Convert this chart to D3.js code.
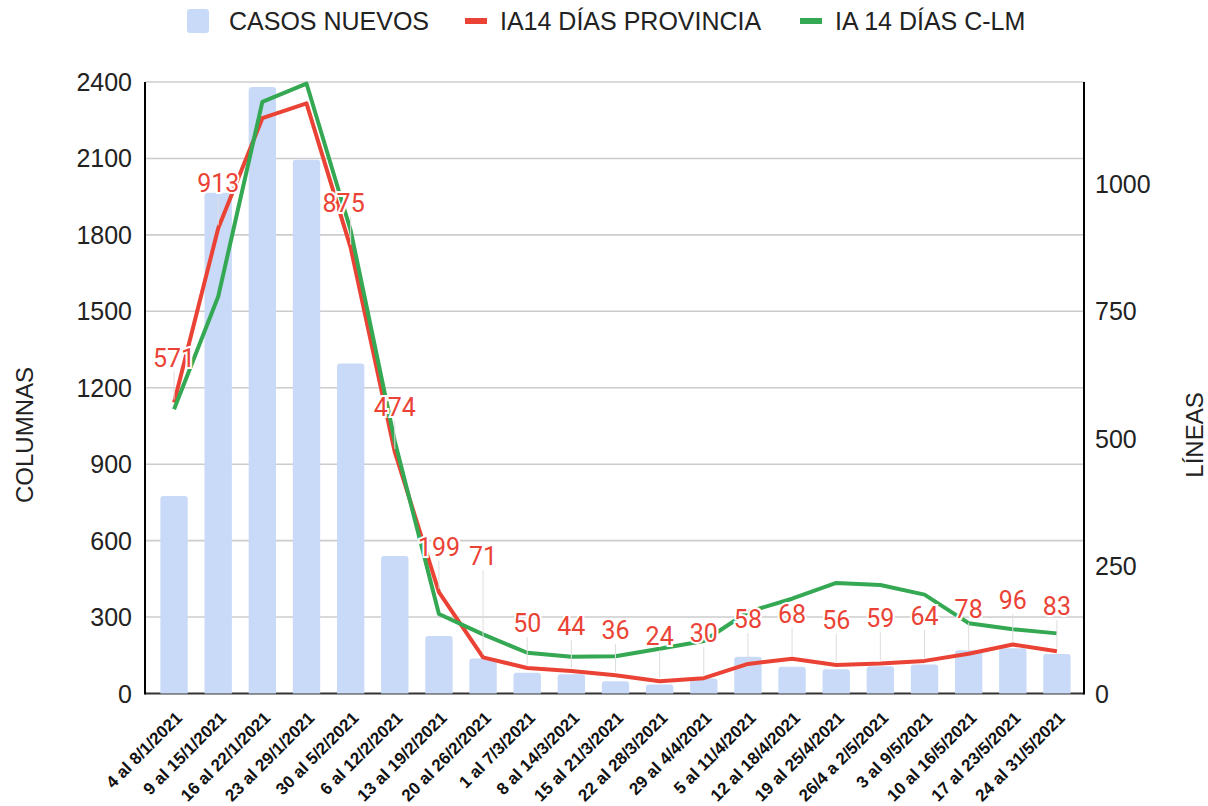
<!DOCTYPE html>
<html>
<head>
<meta charset="utf-8">
<script src="https://cdn.jsdelivr.net/npm/d3@7"></script>
<style>
  body { margin: 0; background: #fff; }
  svg { display: block; }
</style>
</head>
<body>
<div id="main"></div>
<script>
const W = 1208;
const H = 806;

// weeks
const semanas = [
    "4 al 8/1/2021", "9 al 15/1/2021", "16 al 22/1/2021", "23 al 29/1/2021",
    "30 al 5/2/2021", "6 al 12/2/2021", "13 al 19/2/2021", "20 al 26/2/2021",
    "1 al 7/3/2021", "8 al 14/3/2021", "15 al 21/3/2021", "22 al 28/3/2021",
    "29 al 4/4/2021", "5 al 11/4/2021", "12 al 18/4/2021", "19 al 25/4/2021",
    "26/4 a 2/5/2021", "3 al 9/5/2021", "10 al 16/5/2021", "17 al 23/5/2021",
    "24 al 31/5/2021"
];

// columns (left axis)
const casosNuevos = [775, 1965, 2380, 2095, 1295, 540, 226, 137, 81, 76, 48,
                     35, 59, 144, 105, 95, 107, 114, 170, 178, 155];

// lines (right axis)
const iaProvincia = [571, 913, 1129, 1158, 875, 474, 199, 71, 50, 44, 36,
                     24, 30, 58, 68, 56, 59, 64, 78, 96, 83];
const iaClm = [558, 779, 1161, 1197, 909, 495, 156, 116, 80, 72, 73,
               88, 103, 160, 186, 217, 213, 194, 138, 126, 118];

const leftTicks = [0, 300, 600, 900, 1200, 1500, 1800, 2100, 2400];
const rightTicks = [0, 250, 500, 750, 1000];

const legendItems = ["CASOS NUEVOS", "IA14 DÍAS PROVINCIA", "IA 14 DÍAS C-LM"];

var ctx = {
    left: 145, right: 1084, top: 82, bottom: 693.5,
    blue: "#c9daf8",
    red: "#ea4335",
    green: "#34a853",
    axisFont: "'Liberation Sans', Arial, sans-serif",
    labelFont: "Roboto, 'Noto Sans', sans-serif",
    labelLift: 45,
    labelLiftExtra: {7: 101},   // label pushed above the green line
    labelShift: {4: -7},        // label nudged off the lines
};

var x = d3.scaleBand()
    .domain(semanas)
    .range([152, 1079])
    .paddingInner(0.38)
    .paddingOuter(0.19);

var yLeft = d3.scaleLinear().domain([0, 2400]).range([ctx.bottom, ctx.top]);
var yRight = d3.scaleLinear().domain([0, 1200]).range([ctx.bottom, ctx.top]);

var cx = function(d){ return x(d) + x.bandwidth() / 2; };

var svg = d3.select("#main").append("svg")
    .attr("width", W)
    .attr("height", H);

// gridlines
svg.append("g")
    .selectAll("line")
    .data(leftTicks.slice(1))
    .enter()
    .append("line")
    .attr("x1", ctx.left).attr("x2", ctx.right)
    .attr("y1", d => yLeft(d)).attr("y2", d => yLeft(d))
    .style("stroke", "#cccccc")
    .style("stroke-width", 1.6);

// baseline
svg.append("line")
    .attr("x1", ctx.left).attr("x2", ctx.right)
    .attr("y1", ctx.bottom).attr("y2", ctx.bottom)
    .style("stroke", "#333")
    .style("stroke-width", 2);

// bars with rounded tops
var barPath = function(d, i){
    var x0 = x(semanas[i]), w = x.bandwidth();
    var y0 = yLeft(d), r = Math.min(3, (ctx.bottom - y0) / 2);
    return "M" + x0 + "," + ctx.bottom +
           "V" + (y0 + r) +
           "Q" + x0 + "," + y0 + " " + (x0 + r) + "," + y0 +
           "H" + (x0 + w - r) +
           "Q" + (x0 + w) + "," + y0 + " " + (x0 + w) + "," + (y0 + r) +
           "V" + ctx.bottom + "Z";
};

svg.append("g")
    .selectAll("path")
    .data(casosNuevos)
    .enter()
    .append("path")
    .attr("d", barPath)
    .style("fill", ctx.blue);

// left / right axis lines
svg.append("line")
    .attr("x1", ctx.left).attr("x2", ctx.left)
    .attr("y1", ctx.top).attr("y2", ctx.bottom + 1)
    .style("stroke", "#000").style("stroke-width", 2);
svg.append("line")
    .attr("x1", ctx.right).attr("x2", ctx.right)
    .attr("y1", ctx.top).attr("y2", ctx.bottom + 1)
    .style("stroke", "#000").style("stroke-width", 2);

// tick labels
svg.append("g")
    .selectAll("text")
    .data(leftTicks)
    .enter()
    .append("text")
    .attr("x", 132)
    .attr("y", d => yLeft(d))
    .attr("dy", "0.36em")
    .attr("text-anchor", "end")
    .style("font-family", ctx.axisFont)
    .style("font-size", "25px")
    .style("fill", "#222")
    .text(d => d);

svg.append("g")
    .selectAll("text")
    .data(rightTicks)
    .enter()
    .append("text")
    .attr("x", 1095)
    .attr("y", d => yRight(d))
    .attr("dy", "0.36em")
    .attr("text-anchor", "start")
    .style("font-family", ctx.axisFont)
    .style("font-size", "25px")
    .style("fill", "#222")
    .text(d => d);

// axis titles
svg.append("text")
    .attr("transform", "translate(33,435) rotate(-90)")
    .attr("text-anchor", "middle")
    .style("font-family", ctx.axisFont)
    .style("font-size", "24px")
    .style("fill", "#222")
    .text("COLUMNAS");

svg.append("text")
    .attr("transform", "translate(1203,435) rotate(-90)")
    .attr("text-anchor", "middle")
    .style("font-family", ctx.axisFont)
    .style("font-size", "24px")
    .style("fill", "#222")
    .text("LÍNEAS");

// category labels
svg.append("g")
    .selectAll("text")
    .data(semanas)
    .enter()
    .append("text")
    .attr("transform", d => "translate(" + (cx(d) + 9) + ",719) rotate(-45)")
    .attr("text-anchor", "end")
    .style("font-family", ctx.axisFont)
    .style("font-size", "17px")
    .style("font-weight", "bold")
    .style("fill", "#111")
    .text(d => d);

// lines
var lineR = d3.line()
    .x((d, i) => cx(semanas[i]))
    .y(d => yRight(d));

svg.append("path")
    .datum(iaProvincia)
    .attr("d", lineR)
    .style("fill", "none")
    .style("stroke", ctx.red)
    .style("stroke-width", 4)
    .style("stroke-linejoin", "round");

svg.append("path")
    .datum(iaClm)
    .attr("d", lineR)
    .style("fill", "none")
    .style("stroke", ctx.green)
    .style("stroke-width", 4)
    .style("stroke-linejoin", "round");

// data labels for the province series
var labels = iaProvincia.map(function(v, i){
    var py = yRight(v);
    var lift = ctx.labelLiftExtra[i] || ctx.labelLift;
    return {v: v, x: cx(semanas[i]) + (ctx.labelShift[i] || 0), px: cx(semanas[i]), py: py, ly: py - lift};
}).filter(d => d.ly - 12 > ctx.top);

var lg = svg.append("g");
lg.selectAll("line")
    .data(labels)
    .enter()
    .append("line")
    .attr("x1", d => d.px).attr("x2", d => d.px)
    .attr("y1", d => d.ly + 14).attr("y2", d => d.py - 3)
    .style("stroke", "#dddddd")
    .style("stroke-width", 1);

lg.selectAll("text")
    .data(labels)
    .enter()
    .append("text")
    .attr("x", d => d.x)
    .attr("y", d => d.ly)
    .attr("dy", "0.36em")
    .attr("text-anchor", "middle")
    .style("font-family", ctx.labelFont)
    .style("font-size", "25px")
    .style("fill", ctx.red)
    .style("stroke", "#fff")
    .style("stroke-width", 4)
    .style("paint-order", "stroke")
    .text(d => d.v);

// legend
var leg = svg.append("g").style("font-family", ctx.axisFont).style("font-size", "25px");
leg.append("rect")
    .attr("x", 187).attr("y", 9).attr("width", 22).attr("height", 24)
    .attr("rx", 3)
    .style("fill", ctx.blue);
leg.append("text").attr("x", 229).attr("y", 30).style("fill", "#222").text(legendItems[0]);
leg.append("rect")
    .attr("x", 465).attr("y", 18).attr("width", 22).attr("height", 6)
    .style("fill", ctx.red);
leg.append("text").attr("x", 500).attr("y", 30).style("fill", "#222").text(legendItems[1]);
leg.append("rect")
    .attr("x", 800).attr("y", 18).attr("width", 22).attr("height", 6)
    .style("fill", ctx.green);
leg.append("text").attr("x", 835).attr("y", 30).style("fill", "#222").text(legendItems[2]);
</script>
</body>
</html>
